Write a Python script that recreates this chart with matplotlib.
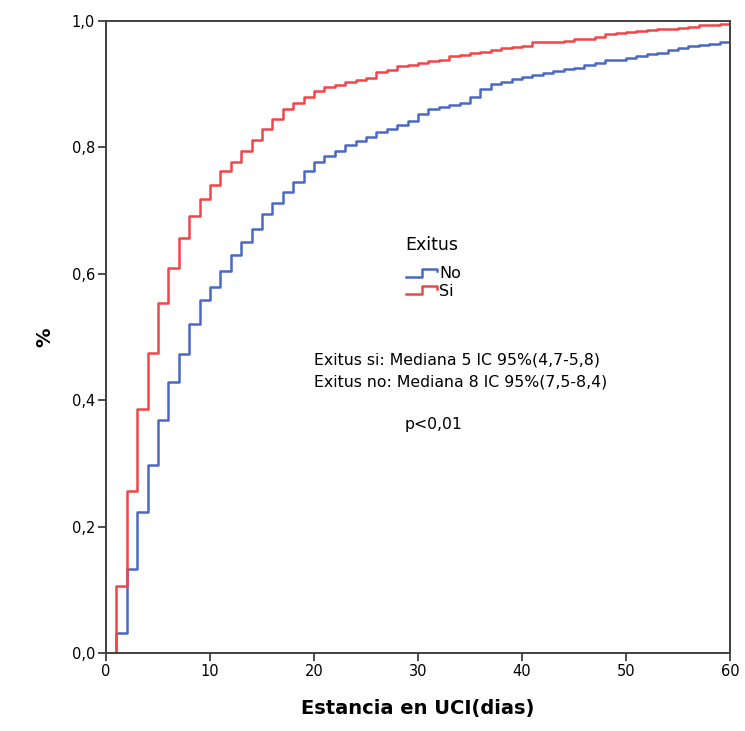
import matplotlib
matplotlib.use("Agg")
import matplotlib.pyplot as plt
from matplotlib.legend_handler import HandlerBase
from matplotlib.lines import Line2D
from matplotlib.ticker import FuncFormatter

# Kaplan-Meier style cumulative curves, one value per day (post step)
dias = list(range(0, 61))
exitus_si = [0.000, 0.106, 0.256, 0.386, 0.475, 0.553, 0.609, 0.656, 0.691, 0.719,
             0.740, 0.763, 0.777, 0.795, 0.812, 0.829, 0.845, 0.860, 0.871, 0.880,
             0.889, 0.895, 0.899, 0.903, 0.906, 0.909, 0.920, 0.922, 0.928, 0.930,
             0.933, 0.937, 0.939, 0.944, 0.946, 0.950, 0.951, 0.954, 0.957, 0.959,
             0.961, 0.966, 0.966, 0.967, 0.969, 0.971, 0.972, 0.975, 0.979, 0.981,
             0.983, 0.984, 0.986, 0.987, 0.988, 0.989, 0.991, 0.994, 0.994, 0.995,
             0.995]
exitus_no = [0.000, 0.031, 0.133, 0.223, 0.298, 0.368, 0.428, 0.473, 0.520, 0.558,
             0.579, 0.605, 0.629, 0.651, 0.671, 0.695, 0.712, 0.729, 0.746, 0.762,
             0.777, 0.787, 0.795, 0.803, 0.810, 0.817, 0.824, 0.829, 0.836, 0.842,
             0.853, 0.860, 0.864, 0.867, 0.871, 0.880, 0.892, 0.900, 0.904, 0.908,
             0.912, 0.915, 0.918, 0.921, 0.924, 0.926, 0.930, 0.934, 0.938, 0.939,
             0.942, 0.945, 0.947, 0.949, 0.954, 0.958, 0.960, 0.962, 0.964, 0.966,
             0.966]
x_ticks = [0, 10, 20, 30, 40, 50, 60]
y_ticks = [0.0, 0.2, 0.4, 0.6, 0.8, 1.0]
notas = ["Exitus si: Mediana 5 IC 95%(4,7-5,8)",
         "Exitus no: Mediana 8 IC 95%(7,5-8,4)"]
p_valor = "p<0,01"

C_NO = "#4a68c4"
C_SI = "#f24449"
C_AXIS = "#404040"


class StepHandler(HandlerBase):
    """Legend icon drawn as a small step, like the SPSS survival legend."""
    def create_artists(self, legend, orig_handle, xdescent, ydescent,
                       width, height, fontsize, trans):
        x0, x1 = -xdescent, -xdescent + width
        xm = x0 + 0.5 * width
        lo, hi = -ydescent + 0.15 * height, -ydescent + 0.85 * height
        ln = Line2D([x0, xm, xm, x1, x1], [lo, lo, hi, hi, hi - 0.25 * height],
                    color=orig_handle.get_color(), lw=orig_handle.get_linewidth())
        ln.set_transform(trans)
        return [ln]


fig = plt.figure(figsize=(7.45, 7.31), dpi=100)
ax = fig.add_axes([0.1423, 0.1067, 0.8376, 0.8646])

h_no, = ax.step(dias, exitus_no, where="post", color=C_NO, lw=1.8, label="No")
h_si, = ax.step(dias, exitus_si, where="post", color=C_SI, lw=1.8, label="Si")

ax.set_xlim(0, 60)
ax.set_ylim(0, 1.0)
ax.set_xticks(x_ticks)
ax.set_yticks(y_ticks)
ax.yaxis.set_major_formatter(FuncFormatter(lambda v, _: f"{v:.1f}".replace(".", ",")))
ax.tick_params(direction="out", length=6, width=1.3, color=C_AXIS,
               labelsize=10.5, pad=2)
for s in ax.spines.values():
    s.set_color(C_AXIS)
    s.set_linewidth(1.4)

ax.set_xlabel("Estancia en UCI(dias)", fontsize=14, fontweight="bold", labelpad=14)
ax.set_ylabel("%", fontsize=14, fontweight="bold", labelpad=12)

# legend: title drawn as its own text so the gap matches the reference
ax.text(0.479, 0.646, "Exitus", transform=ax.transAxes, fontsize=12.5,
        va="center", ha="left")
ax.legend([h_no, h_si], ["No", "Si"], frameon=False,
          handler_map={Line2D: StepHandler()}, loc="upper left",
          bbox_to_anchor=(0.480, 0.612), borderpad=0, borderaxespad=0,
          fontsize=11.5, handlelength=2.0, handletextpad=0.1,
          labelspacing=0.15)

ax.text(0.333, 0.464, notas[0], transform=ax.transAxes, fontsize=11.3,
        va="center", ha="left")
ax.text(0.333, 0.428, notas[1], transform=ax.transAxes, fontsize=11.3,
        va="center", ha="left")
ax.text(0.479, 0.361, p_valor, transform=ax.transAxes, fontsize=11.3,
        va="center", ha="left")

fig.savefig("out.png", dpi=100)
